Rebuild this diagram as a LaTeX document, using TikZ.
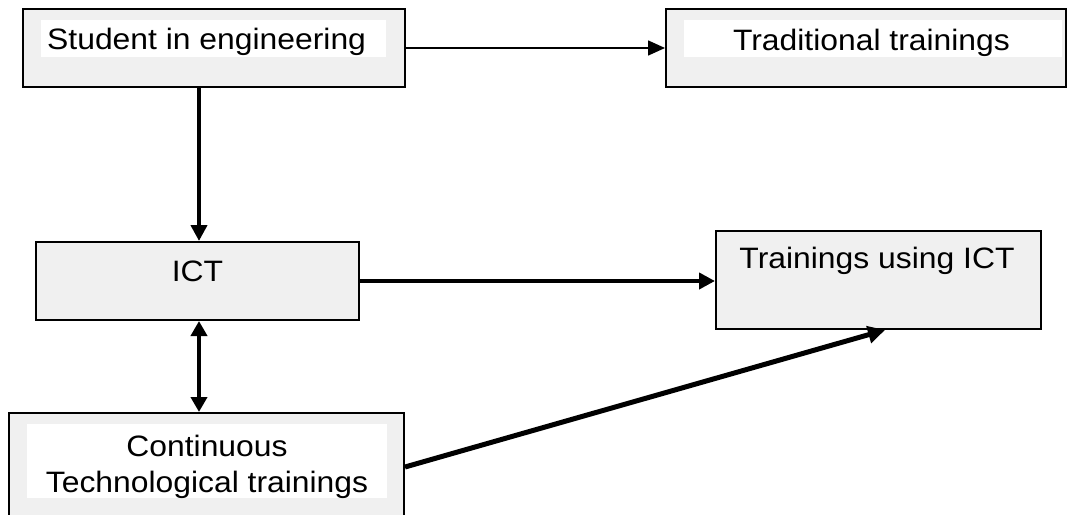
\documentclass[tikz,border=0pt]{standalone}
\usepackage{fontspec}
\setmainfont{Liberation Sans}[FakeStretch=1.08]
\usetikzlibrary{arrows.meta}
\definecolor{boxgray}{HTML}{F0F0F0}
\tikzset{
  box/.style={draw=black, line width=2pt, fill=boxgray, rectangle, inner sep=0pt},
  whitebg/.style={fill=white, draw=none, rectangle, inner sep=0pt},
  lbl/.style={inner sep=0pt, font=\fontsize{29.5}{36}\selectfont, text=black},
  thin arrow/.style={line width=1.6pt, -{Triangle[length=17pt,width=15pt]}},
  thick arrow/.style={line width=4.2pt, -{Triangle[length=16pt,width=16pt]}},
  thick double/.style={line width=4.2pt, {Triangle[length=15pt,width=16pt]}-{Triangle[length=15pt,width=16pt]}},
}
\begin{document}
\begin{tikzpicture}[x=1pt,y=-1pt]
\useasboundingbox (0,0) rectangle (1068,514);
% boxes
\node[box, minimum width=382pt, minimum height=78pt] (stu) at (214,48) {};
\node[box, minimum width=400pt, minimum height=78pt] (trad) at (866,48) {};
\node[box, minimum width=323pt, minimum height=78pt] (ict) at (197.5,281) {};
\node[box, minimum width=325pt, minimum height=98pt] (tui) at (878.5,280) {};
\node[box, minimum width=395pt, minimum height=106pt] (cont) at (206.5,466) {};
% white text backgrounds
\node[whitebg, minimum width=345pt, minimum height=37pt] (stubg) at (213.5,38.5) {};
\node[whitebg, minimum width=378pt, minimum height=37pt] (tradbg) at (873,38.5) {};
\node[whitebg, minimum width=360pt, minimum height=74pt] (contbg) at (207,461) {};
% texts
\node[lbl, anchor=base west] (stut) at (47,49) {Student in engineering};
\node[lbl, anchor=base] (tradt) at (871.5,50) {Traditional trainings};
\node[lbl, anchor=base] (ictt) at (197.5,281) {ICT};
\node[lbl, anchor=base] (tuit) at (877,268) {Trainings using ICT};
\node[lbl, anchor=base] (contt1) at (207,456) {Continuous};
\node[lbl, anchor=base] (contt2) at (207,492) {Technological trainings};
% helper coordinates
\coordinate (xa) at (199,0);
\coordinate (ya) at (0,48);
\coordinate (yb) at (0,281);
\coordinate (cs) at (404,467);
\coordinate (te) at (885,329);
% connectors
\draw[thin arrow] (stu.east |- ya) -- (trad.west |- ya);
\draw[thick arrow] (stu.south -| xa) -- (ict.north -| xa);
\draw[thick arrow] (ict.east |- yb) -- (tui.west |- yb);
\draw[thick double] (ict.south -| xa) -- (cont.north -| xa);
\draw[line width=5pt, -{Triangle[length=17pt,width=17pt]}] (cont.east |- cs) -- (tui.south -| te);
\end{tikzpicture}
\end{document}
